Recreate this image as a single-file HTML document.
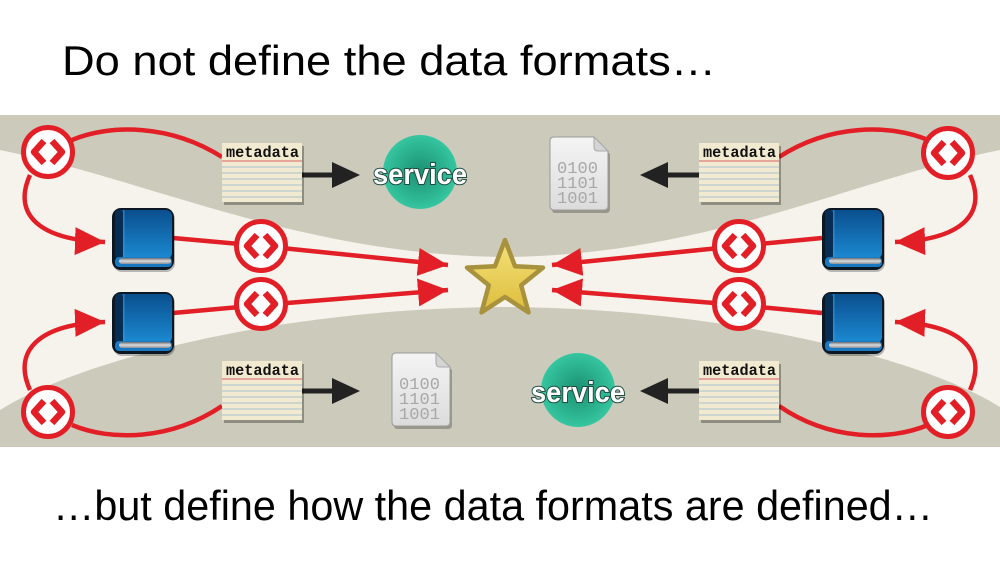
<!DOCTYPE html>
<html><head><meta charset="utf-8"><style>
html,body{margin:0;padding:0;background:#fff;}
svg{display:block;}
</style></head><body>
<svg width="1000" height="563" viewBox="0 0 1000 563" xmlns="http://www.w3.org/2000/svg">
<defs>
<radialGradient id="svc" cx="50%" cy="50%" r="50%">
<stop offset="0" stop-color="#1b8f72"/><stop offset="1" stop-color="#35c6a0"/>
</radialGradient>
<linearGradient id="blue" x1="0" y1="0" x2="0" y2="1">
<stop offset="0" stop-color="#0a4f8e"/><stop offset="1" stop-color="#1c8ad2"/>
</linearGradient>
<linearGradient id="pages" x1="0" y1="0" x2="0" y2="1">
<stop offset="0" stop-color="#6b6f74"/><stop offset="0.5" stop-color="#d8dadc"/><stop offset="1" stop-color="#8b8f94"/>
</linearGradient>
<linearGradient id="file" x1="0" y1="0" x2="0" y2="1">
<stop offset="0" stop-color="#f4f4f4"/><stop offset="1" stop-color="#dcdcdc"/>
</linearGradient>
<linearGradient id="star" x1="0" y1="0" x2="0" y2="1">
<stop offset="0" stop-color="#f6e27a"/><stop offset="1" stop-color="#dcbd3c"/>
</linearGradient>
<marker id="ra" markerUnits="userSpaceOnUse" markerWidth="32" markerHeight="30" refX="30" refY="14" orient="auto">
<path d="M0,0 L30,14 L0,28 z" fill="#e21f26"/>
</marker>
<g id="circ">
<circle cx="0" cy="0" r="24.5" fill="#fff" stroke="#e21f26" stroke-width="5"/>
<polyline points="-4,-11 -14,0 -4,11" fill="none" stroke="#e21f26" stroke-width="6.5" stroke-linejoin="round"/>
<polyline points="4,-11 14,0 4,11" fill="none" stroke="#e21f26" stroke-width="6.5" stroke-linejoin="round"/>
</g>
<g id="book">
<rect x="1" y="2" width="62" height="62" rx="9" fill="#000" opacity="0.25"/>
<rect x="0" y="0" width="62" height="62" rx="9" fill="#0b1722"/>
<rect x="3" y="2" width="57" height="49" rx="6" fill="url(#blue)"/>
<rect x="3" y="2" width="8" height="49" rx="3" fill="#072d52"/>
<rect x="11" y="2" width="1.5" height="49" fill="#3d9be0" opacity="0.6"/>
<rect x="3" y="49" width="57" height="10" rx="4" fill="#1a78c0"/>
<rect x="7" y="50" width="52" height="6" rx="3" fill="url(#pages)"/>
</g>
<g id="meta">
<rect x="2" y="3" width="80" height="59" fill="#000" opacity="0.3"/>
<rect x="0" y="0" width="80" height="59" fill="#f1ead0"/>
<line x1="0" y1="18" x2="80" y2="18" stroke="#e07a7a" stroke-width="1.2"/>
<g stroke="#a9c0d2" stroke-width="1">
<line x1="0" y1="24" x2="80" y2="24"/><line x1="0" y1="30" x2="80" y2="30"/>
<line x1="0" y1="36" x2="80" y2="36"/><line x1="0" y1="42" x2="80" y2="42"/>
<line x1="0" y1="48" x2="80" y2="48"/><line x1="0" y1="54" x2="80" y2="54"/>
</g>
<text x="4" y="14" font-family="Liberation Mono, monospace" font-weight="bold" font-size="15.5" fill="#111" textLength="73" lengthAdjust="spacingAndGlyphs">metadata</text>
</g>
<g id="fileic">
<path d="M3,3 H46 L60,17 V72 Q60,76 56,76 H5 Q2,76 2,72 Z" fill="#000" opacity="0.25"/>
<path d="M4,0 H44 L58,14 V69 Q58,73 54,73 H4 Q0,73 0,69 V4 Q0,0 4,0 Z" fill="url(#file)" stroke="#9a9a9a" stroke-width="1"/>
<path d="M44,0 V10 Q44,14 48,14 H58 Z" fill="#d4d4d4" stroke="#a8a8a8" stroke-width="1"/>
<g font-family="Liberation Mono, monospace" font-size="17" fill="#a8a8a8">
<text x="7" y="36" textLength="41" lengthAdjust="spacingAndGlyphs">0100</text>
<text x="7" y="51" textLength="41" lengthAdjust="spacingAndGlyphs">1101</text>
<text x="7" y="66" textLength="41" lengthAdjust="spacingAndGlyphs">1001</text>
</g>
</g>
</defs>

<!-- title -->
<text x="62" y="75" font-family="Liberation Sans, sans-serif" font-size="42" fill="#000" textLength="654" lengthAdjust="spacingAndGlyphs">Do not define the data formats…</text>

<!-- band -->
<rect x="0" y="115" width="1000" height="332" fill="#cccabb"/>
<path d="M0,150 C150,180 300,255 505,257 C710,255 850,180 1000,150 L1000,407 C920,357 720,308 505,307 C280,308 80,360 0,410 Z" fill="#f5f3eb"/>

<!-- red connectors -->
<g fill="none" stroke="#e21f26" stroke-width="4.5">
<path d="M72,140 C110,124 170,124 222,157"/>
<path d="M928,140 C890,124 830,124 779,157"/>
<path d="M72,425 C110,441 170,441 222,406"/>
<path d="M928,425 C890,441 830,441 779,406"/>
<path d="M30,175 C12,215 40,240 105,242" marker-end="url(#ra)"/>
<path d="M30,390 C12,350 40,324 105,322" marker-end="url(#ra)"/>
<path d="M970,175 C988,215 960,240 895,242" marker-end="url(#ra)"/>
<path d="M970,390 C988,350 960,324 895,322" marker-end="url(#ra)"/>
<line x1="173" y1="238" x2="262" y2="246"/>
<line x1="173" y1="313" x2="262" y2="305"/>
<line x1="822" y1="238" x2="739" y2="246"/>
<line x1="822" y1="313" x2="739" y2="305"/>
<line x1="262" y1="246" x2="448" y2="265" marker-end="url(#ra)"/>
<line x1="262" y1="305" x2="448" y2="290" marker-end="url(#ra)"/>
<line x1="739" y1="246" x2="552" y2="265" marker-end="url(#ra)"/>
<line x1="739" y1="305" x2="552" y2="290" marker-end="url(#ra)"/>
</g>

<!-- black arrows -->
<g stroke="#222" stroke-width="5">
<line x1="300" y1="175" x2="335" y2="175"/>
<line x1="300" y1="391" x2="335" y2="391"/>
<line x1="700" y1="175" x2="665" y2="175"/>
<line x1="700" y1="391" x2="665" y2="391"/>
</g>
<g fill="#222">
<path d="M332,162 L360,175 L332,188 Z"/>
<path d="M332,378 L360,391 L332,404 Z"/>
<path d="M668,162 L640,175 L668,188 Z"/>
<path d="M668,378 L640,391 L668,404 Z"/>
</g>

<!-- metadata cards -->
<use href="#meta" x="222" y="143"/>
<use href="#meta" x="699" y="143"/>
<use href="#meta" x="222" y="361"/>
<use href="#meta" x="699" y="361"/>

<!-- books -->
<use href="#book" x="112" y="208"/>
<use href="#book" x="112" y="292"/>
<use href="#book" x="822" y="208"/>
<use href="#book" x="822" y="292"/>

<!-- circles -->
<use href="#circ" x="48" y="152"/>
<use href="#circ" x="48" y="412"/>
<use href="#circ" x="948" y="153"/>
<use href="#circ" x="948" y="412"/>
<use href="#circ" x="261" y="246"/>
<use href="#circ" x="261" y="304"/>
<use href="#circ" x="739" y="246"/>
<use href="#circ" x="739" y="304"/>

<!-- files -->
<use href="#fileic" x="550" y="137"/>
<use href="#fileic" x="392" y="353"/>

<!-- services -->
<circle cx="420" cy="172" r="37" fill="url(#svc)"/>
<circle cx="578" cy="390" r="37" fill="url(#svc)"/>
<g font-family="Liberation Sans, sans-serif" font-weight="bold" font-size="29" fill="#fff" stroke="#1d4a3e" stroke-width="2" paint-order="stroke" text-anchor="middle">
<text x="420" y="184" textLength="94" lengthAdjust="spacingAndGlyphs">service</text>
<text x="578" y="402" textLength="94" lengthAdjust="spacingAndGlyphs">service</text>
</g>

<!-- star -->
<path d="M505,240 L515,266.2 L543,267.6 L521.2,285.3 L528.5,312.4 L505,297 L481.5,312.4 L488.8,285.3 L467,267.6 L495,266.2 Z" fill="url(#star)" stroke="#a8923e" stroke-width="4.5" stroke-linejoin="round"/>

<!-- bottom text -->
<text x="53" y="520" font-family="Liberation Sans, sans-serif" font-size="42" fill="#000" textLength="880" lengthAdjust="spacingAndGlyphs">…but define how the data formats are defined…</text>
</svg>
</body></html>
